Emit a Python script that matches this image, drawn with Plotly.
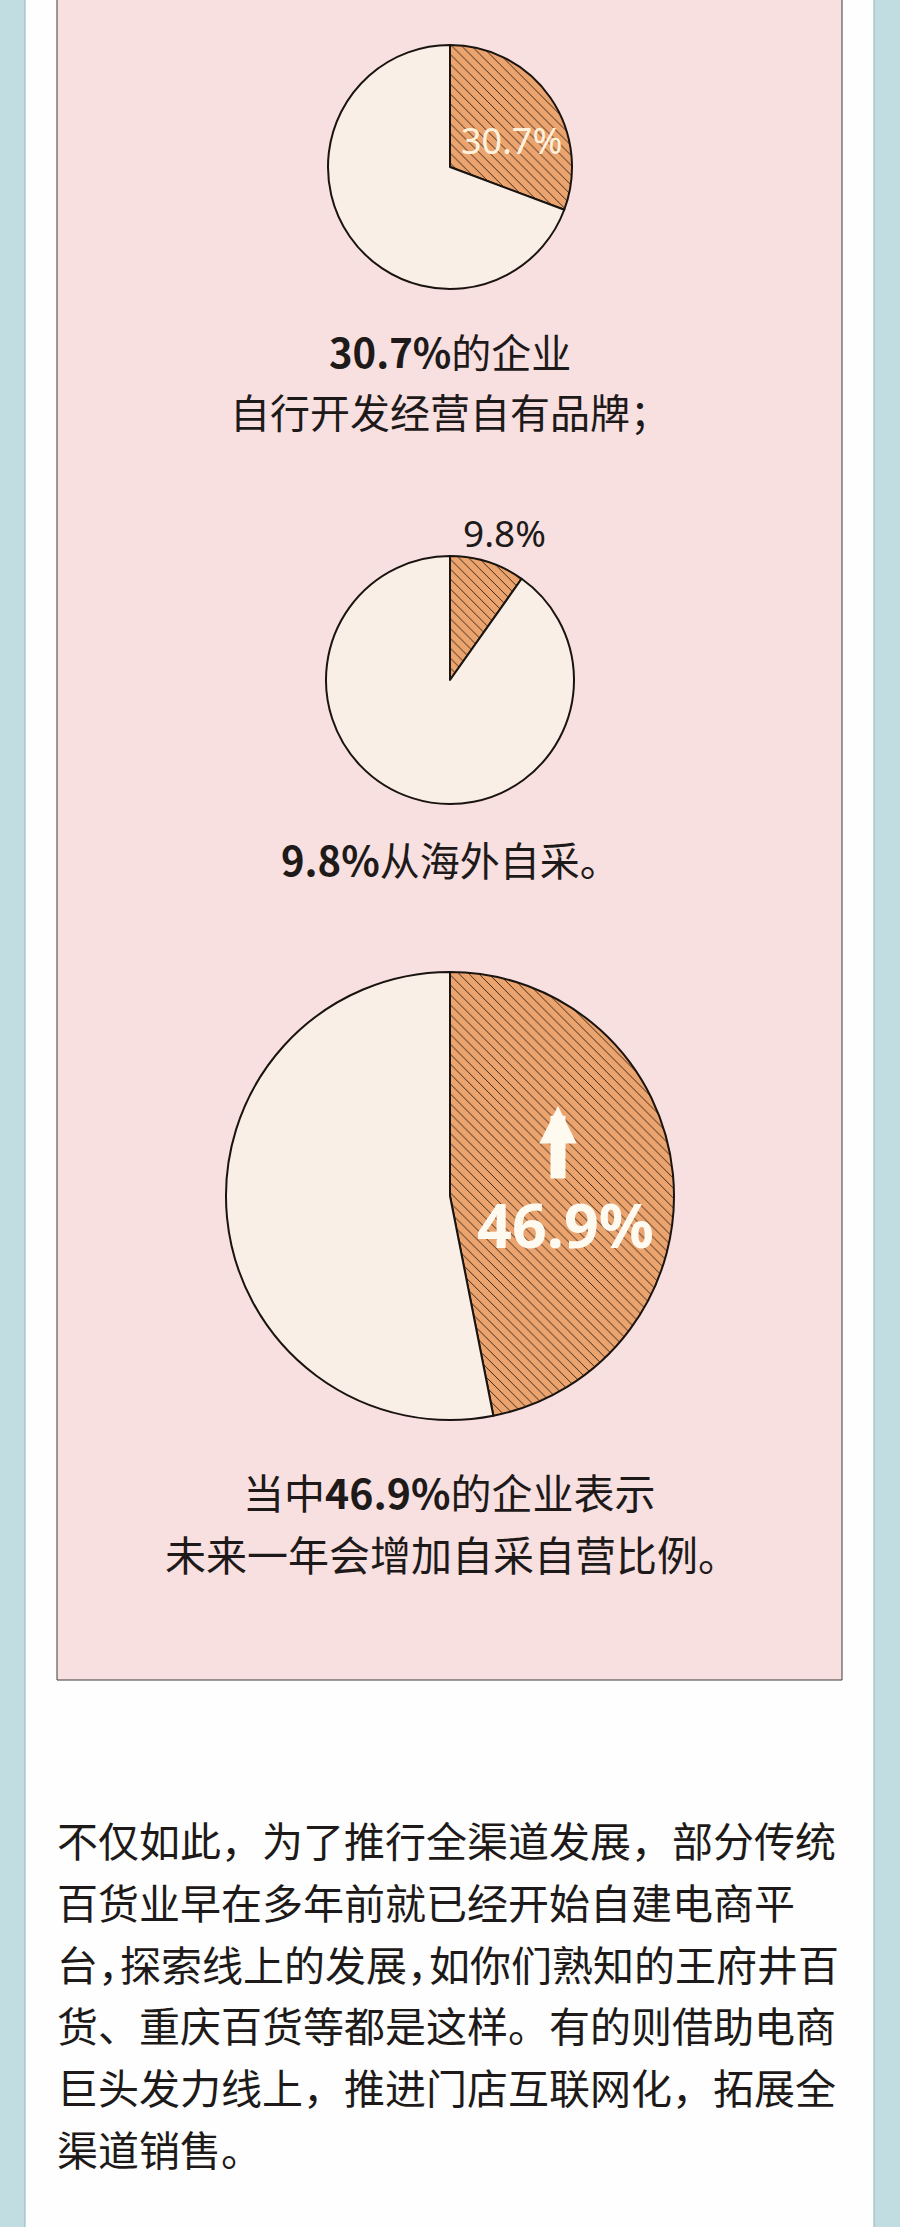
import plotly.graph_objects as go

# -----------------------------
# Data
# -----------------------------
shares = [30.7, 9.8, 46.9]          # highlighted slice, %
rest = [69.3, 90.2, 53.1]           # remaining share, %
share_labels = ["30.7%", "9.8%", "46.9%"]

caption_1 = ["<b>30.7%</b>的企业", "自行开发经营自有品牌；"]
caption_2 = ["<b>9.8%</b>从海外自采。"]
caption_3 = ["当中<b>46.9%</b>的企业表示", "未来一年会增加自采自营比例。"]

# half-width commas on the third line so it fits the column, as in the source
HC = '<span style="letter-spacing:-19px">，</span>'
body_lines = [
    "不仅如此，为了推行全渠道发展，部分传统",
    "百货业早在多年前就已经开始自建电商平",
    "台" + HC + "探索线上的发展" + HC + "如你们熟知的王府井百",
    "货、重庆百货等都是这样。有的则借助电商",
    "巨头发力线上，推进门店互联网化，拓展全",
    "渠道销售。",
]

# -----------------------------
# Style
# -----------------------------
W, H = 900, 2227
BLUE = "#c2dde2"
WHITE = "#fdfefd"
PINK = "#f8dfe0"
CREAM = "#f9efe7"
ORANGE = "#eca46f"
INK = "#1d1a19"
FONT = "Noto Sans CJK SC"


def px(x):
    return x / W


def py(y):
    return 1 - y / H


# pie boxes in pixels: (left, right, top, bottom)
boxes = [(328, 572, 45, 289), (326, 574, 556, 804), (226, 674, 972, 1420)]

fig = go.Figure()

for s, r, (l, rgt, t, b) in zip(shares, rest, boxes):
    fig.add_trace(go.Pie(
        values=[s, r],
        labels=["a", "b"],
        sort=False,
        direction="clockwise",
        rotation=0,
        textinfo="none",
        hoverinfo="skip",
        showlegend=False,
        domain=dict(x=[px(l), px(rgt)], y=[py(b), py(t)]),
        marker=dict(
            colors=[ORANGE, CREAM],
            line=dict(color="#1a1410", width=2),
            pattern=dict(shape=["\\", ""], fgcolor="#3a2618",
                         bgcolor=[ORANGE, CREAM],
                         size=7, solidity=0.14),
        ),
    ))

annotations = []

# labels on / near the slices
annotations.append(dict(x=px(511), y=py(140), text=share_labels[0],
                        font=dict(family="Noto Sans", size=36, color="#fff2dc")))
annotations.append(dict(x=px(504), y=py(532), text=share_labels[1],
                        font=dict(family="Noto Sans", size=37, color=INK)))
annotations.append(dict(x=px(565), y=py(1224), text="<b>%s</b>" % share_labels[2],
                        font=dict(family="Noto Sans", size=61, color="#fffaf0")))
# white up arrow
annotations.append(dict(x=px(558), y=py(1106), ax=0, ay=74, text="",
                        showarrow=True, arrowhead=2, arrowsize=0.5,
                        arrowwidth=15, arrowcolor="#fffaf0"))

# captions
for txt, yc in zip(caption_1, [351, 411]):
    annotations.append(dict(x=0.5, y=py(yc), text=txt,
                            font=dict(family=FONT, size=40, color=INK)))
for txt, yc in zip(caption_2, [859]):
    annotations.append(dict(x=0.5, y=py(yc), text=txt,
                            font=dict(family=FONT, size=40, color=INK)))
for txt, yc, xc in zip(caption_3, [1491, 1553], [449, 452]):
    annotations.append(dict(x=px(xc), y=py(yc), text=txt,
                            font=dict(family=FONT, size=41, color=INK)))

# body paragraph
for i, line in enumerate(body_lines):
    annotations.append(dict(x=px(55), y=py(1839 + i * 61.8), text=line,
                            xanchor="left",
                            font=dict(family=FONT, size=41, color=INK)))

for a in annotations:
    a.setdefault("xref", "paper")
    a.setdefault("yref", "paper")
    a.setdefault("showarrow", False)
    a.setdefault("xanchor", "center")
    a.setdefault("yanchor", "middle")

shapes = [
    dict(type="rect", xref="paper", yref="paper", layer="below",
         x0=px(25), x1=px(874), y0=-0.01, y1=1.01,
         fillcolor=WHITE, line=dict(color="#93b3b9", width=1)),
    dict(type="rect", xref="paper", yref="paper", layer="below",
         x0=px(57), x1=px(842), y0=py(1680), y1=1.01,
         fillcolor=PINK, line=dict(color="#3f3a3a", width=1)),
]

fig.update_layout(
    width=W, height=H,
    margin=dict(l=0, r=0, t=0, b=0),
    paper_bgcolor=BLUE,
    plot_bgcolor=BLUE,
    annotations=annotations,
    shapes=shapes,
)

fig.write_html("out.html", config={"displayModeBar": False},
               post_script="document.body.style.margin='0';")
